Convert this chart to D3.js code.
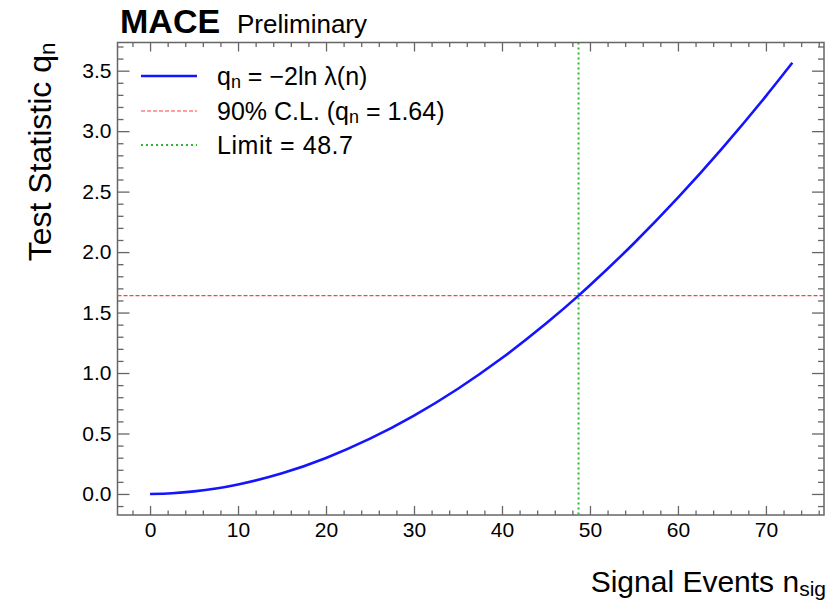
<!DOCTYPE html>
<html>
<head>
<meta charset="utf-8">
<script src="https://cdn.jsdelivr.net/npm/d3@7"></script>
<style>
  html, body { margin: 0; padding: 0; background: #fff; }
  svg { display: block; }
  text { font-family: "Liberation Sans", Arial, Helvetica, sans-serif; fill: #000; }
</style>
</head>
<body>
<svg id="chart" width="839" height="601"></svg>
<script>
// ---- data ----
const nSig = [0, 2.5, 5, 7.5, 10, 15, 20, 25, 30, 35, 40, 45, 48.7, 50, 55, 60, 65, 70, 73];
const qVals = [0, 0.006, 0.021, 0.045, 0.079, 0.171, 0.298, 0.457, 0.648, 0.870, 1.124, 1.409, 1.64, 1.726, 2.073, 2.45, 2.856, 3.29, 3.565];
const clLevel = 1.64;
const limitValue = 48.7;
const xTicks = [0, 10, 20, 30, 40, 50, 60, 70];
const yTicks = [0.0, 0.5, 1.0, 1.5, 2.0, 2.5, 3.0, 3.5];
const legendLabels = ["q_n = −2ln λ(n)", "90% C.L. (q_n = 1.64)", "Limit = 48.7"];

// ---- layout ----
const frame = { left: 117.5, right: 824, top: 42.5, bottom: 515 };
const svg = d3.select("#chart");

const x = d3.scaleLinear().domain([-3.7, 76.6]).range([frame.left, frame.right]);
const y = d3.scaleLinear().domain([-0.174, 3.733]).range([frame.bottom, frame.top]);

const frameColor = "#666";
const redColor = "#ff4040";
const greenColor = "#2eb82e";
const blueColor = "#1414ff";

svg.append("defs").append("clipPath").attr("id", "clip")
  .append("rect").attr("x", frame.left).attr("y", frame.top)
  .attr("width", frame.right - frame.left).attr("height", frame.bottom - frame.top);

// ---- axes with ticks (major + minor) ----
const xMinor = d3.range(-2, 77, 2).filter(v => v % 10 !== 0);
const yMinor = d3.range(-1, 38, 1).map(v => v / 10).filter(v => Math.abs(v * 2 - Math.round(v * 2)) > 1e-6);

const xAxisB = svg.append("g").attr("transform", `translate(0,${frame.bottom})`)
  .call(d3.axisBottom(x).tickValues(xTicks).tickSize(-9).tickPadding(7).tickFormat(d3.format("d")));
const xAxisBm = svg.append("g").attr("transform", `translate(0,${frame.bottom})`)
  .call(d3.axisBottom(x).tickValues(xMinor).tickSize(-4.5).tickFormat(""));
const xAxisT = svg.append("g").attr("transform", `translate(0,${frame.top})`)
  .call(d3.axisTop(x).tickValues(xTicks).tickSize(-9).tickFormat(""));
const xAxisTm = svg.append("g").attr("transform", `translate(0,${frame.top})`)
  .call(d3.axisTop(x).tickValues(xMinor).tickSize(-4.5).tickFormat(""));
const yAxisL = svg.append("g").attr("transform", `translate(${frame.left},0)`)
  .call(d3.axisLeft(y).tickValues(yTicks).tickSize(-12).tickPadding(6).tickFormat(d3.format(".1f")));
const yAxisLm = svg.append("g").attr("transform", `translate(${frame.left},0)`)
  .call(d3.axisLeft(y).tickValues(yMinor).tickSize(-6).tickFormat(""));
const yAxisR = svg.append("g").attr("transform", `translate(${frame.right},0)`)
  .call(d3.axisRight(y).tickValues(yTicks).tickSize(-12).tickFormat(""));
const yAxisRm = svg.append("g").attr("transform", `translate(${frame.right},0)`)
  .call(d3.axisRight(y).tickValues(yMinor).tickSize(-6).tickFormat(""));

[xAxisB, xAxisBm, xAxisT, xAxisTm, yAxisL, yAxisLm, yAxisR, yAxisRm].forEach(g => {
  g.select(".domain").remove();
  g.selectAll(".tick line").attr("stroke", frameColor).attr("stroke-width", 1.3);
  g.selectAll(".tick text").style("font-family", '"Liberation Sans", Arial, sans-serif')
    .style("font-size", "21px").attr("fill", "#000");
});

svg.append("rect")
  .attr("x", frame.left).attr("y", frame.top)
  .attr("width", frame.right - frame.left).attr("height", frame.bottom - frame.top)
  .attr("fill", "none").attr("stroke", frameColor).attr("stroke-width", 1.5);

// ---- reference lines ----
const plot = svg.append("g").attr("clip-path", "url(#clip)");
plot.append("line")
  .attr("x1", frame.left).attr("x2", frame.right)
  .attr("y1", y(clLevel)).attr("y2", y(clLevel))
  .attr("stroke", redColor).attr("stroke-width", 1.2).attr("stroke-dasharray", "4,2");
plot.append("line")
  .attr("x1", x(limitValue)).attr("x2", x(limitValue))
  .attr("y1", frame.top).attr("y2", frame.bottom)
  .attr("stroke", greenColor).attr("stroke-width", 2).attr("stroke-dasharray", "2,3");

// ---- curve ----
const line = d3.line().x((d, i) => x(nSig[i])).y(d => y(d)).curve(d3.curveMonotoneX);
plot.append("path").datum(qVals)
  .attr("d", line).attr("fill", "none")
  .attr("stroke", blueColor).attr("stroke-width", 2.6);

// ---- legend ----
const legendY = [76, 111, 145];
const legendStyles = [
  { stroke: blueColor, width: 2.4, dash: null },
  { stroke: redColor, width: 1.2, dash: "4,2" },
  { stroke: greenColor, width: 2, dash: "2,3" }
];
const legendWidths = [null, null, 136];
const lg = svg.append("g");
legendStyles.forEach((s, i) => {
  lg.append("line").attr("x1", 141).attr("x2", 197)
    .attr("y1", legendY[i]).attr("y2", legendY[i])
    .attr("stroke", s.stroke).attr("stroke-width", s.width)
    .attr("stroke-dasharray", s.dash);
});

function richText(sel, str) {
  const parts = str.split("q_n");
  parts.forEach((p, i) => {
    if (i > 0) {
      sel.append("tspan").text("q");
      sel.append("tspan").attr("font-size", "0.72em").attr("dy", "0.18em").text("n");
      sel.append("tspan").attr("dy", "-0.13em").text(p);
    } else if (p.length) {
      sel.append("tspan").text(p);
    }
  });
}
legendLabels.forEach((lab, i) => {
  const t = lg.append("text").attr("x", 217).attr("y", legendY[i] + 9)
    .style("font-size", "25px");
  if (legendWidths[i]) t.attr("textLength", legendWidths[i]).attr("lengthAdjust", "spacing");
  richText(t, lab);
});

// ---- titles ----
svg.append("text").attr("x", 120).attr("y", 33)
  .style("font-size", "34px").style("font-weight", "bold").text("MACE");
svg.append("text").attr("x", 237).attr("y", 33)
  .style("font-size", "26px").text("Preliminary");

const yt = svg.append("text").attr("transform", `translate(51,${frame.top}) rotate(-90)`)
  .attr("text-anchor", "end").style("font-size", "32px");
yt.append("tspan").text("Test Statistic q");
yt.append("tspan").attr("font-size", "0.7em").attr("dy", "0.2em").text("n");

const xt = svg.append("text").attr("x", 826).attr("y", 592)
  .attr("text-anchor", "end").style("font-size", "30px");
xt.append("tspan").text("Signal Events n");
xt.append("tspan").attr("font-size", "0.7em").attr("dy", "0.2em").text("sig");
</script>
</body>
</html>
